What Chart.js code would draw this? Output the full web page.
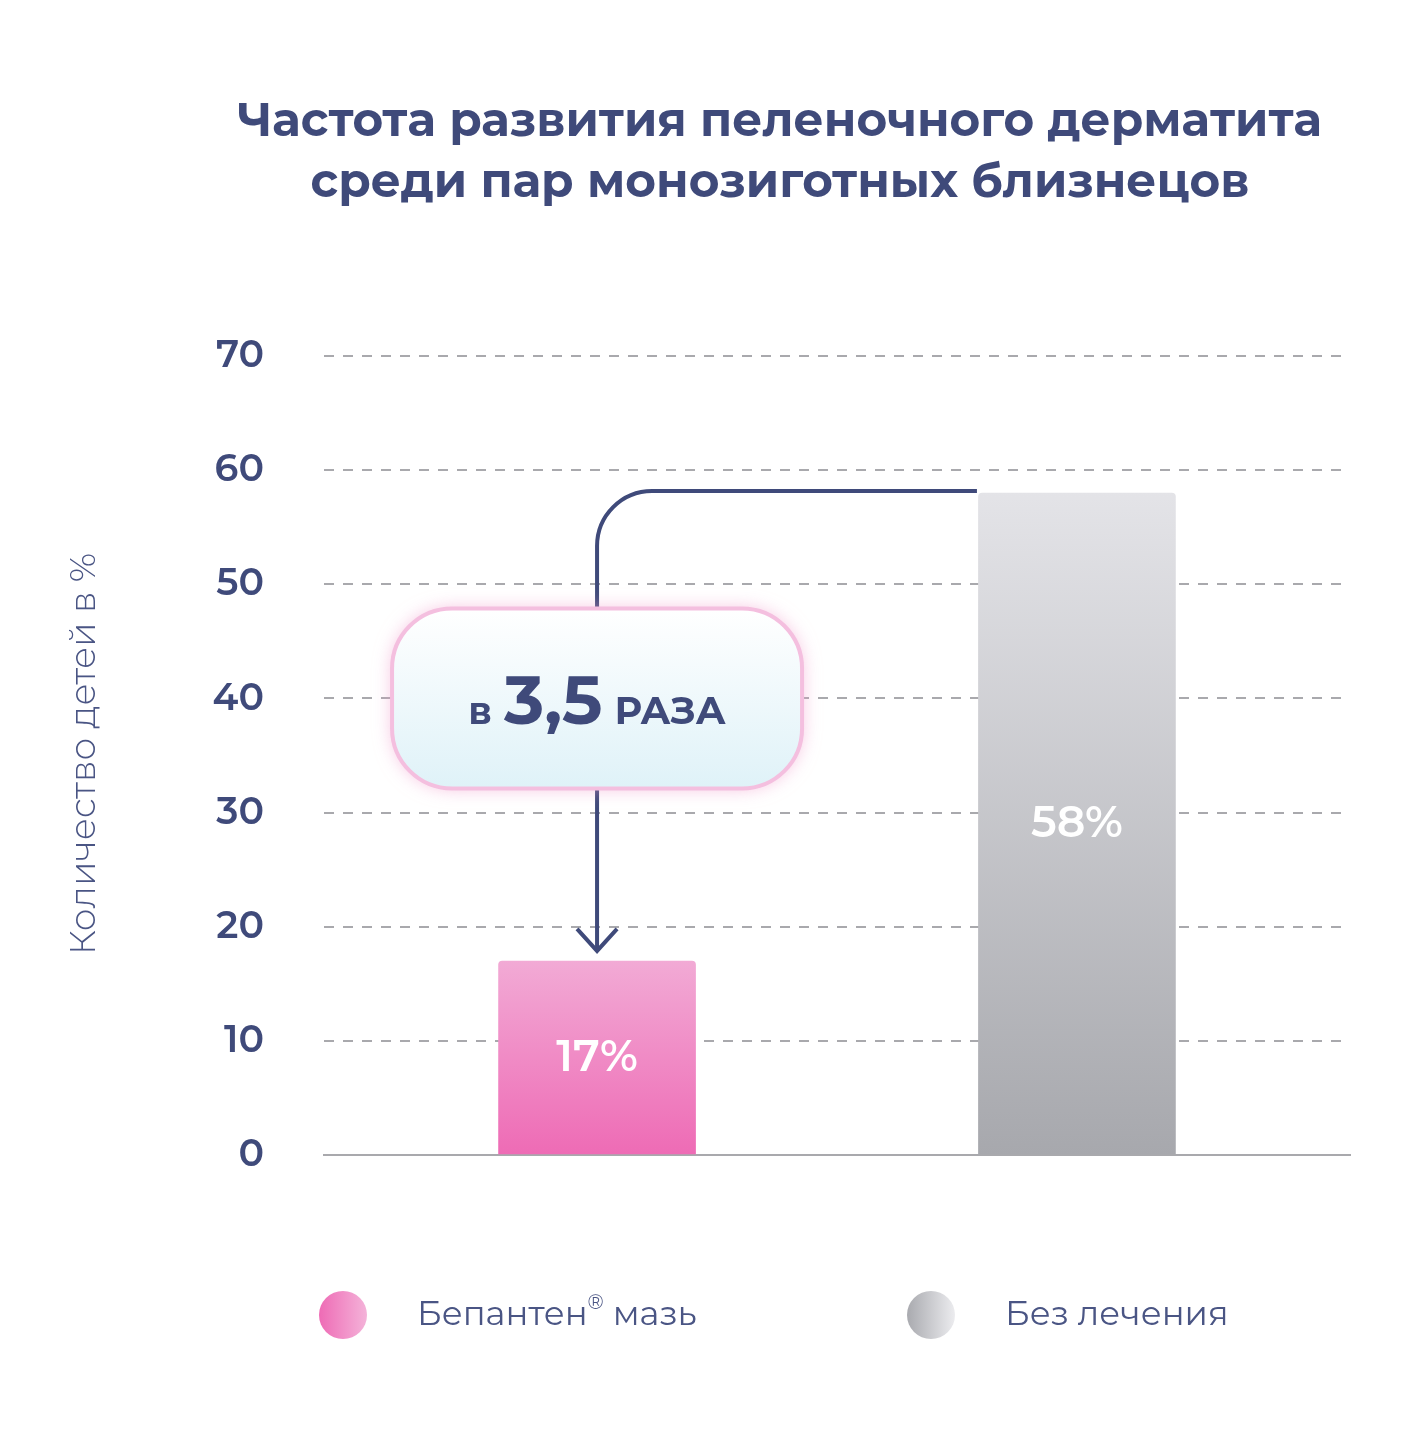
<!DOCTYPE html>
<html>
<head>
<meta charset="utf-8">
<script src="https://cdn.jsdelivr.net/npm/chart.js@4.4.0/dist/chart.umd.min.js"></script>
<style>
  body { margin: 0; background: #fff; }
  #wrap { width: 1410px; height: 1449px; }
</style>
</head>
<body>
<div id="wrap"><canvas id="myChart" width="1410" height="1449"></canvas></div>
<script>
var categories = ["Бепантен® мазь", "Без лечения"];
var values = [17, 58];
var valueLabels = ["17%", "58%"];
var yTicks = [0, 10, 20, 30, 40, 50, 60, 70];
var ratioText = ["в", "3,5", "РАЗА"];
var titleLines = ["Частота развития пеленочного дерматита", "среди пар монозиготных близнецов"];
var yTitle = "Количество детей в %";

var navy = "#3f4a7a";

function barColor(ctx) {
    var area = ctx.chart.chartArea;
    if (!area) return "#ccc";
    var g = ctx.chart.ctx.createLinearGradient(0, area.top, 0, area.bottom);
    if (ctx.dataIndex === 0) {
        g.addColorStop(0.75, "#f2acd6");
        g.addColorStop(1, "#ee6bb5");
    } else {
        g.addColorStop(0.15, "#e5e5e9");
        g.addColorStop(1, "#a7a8ad");
    }
    return g;
}

function roundRect(c, x, y, w, h, r) {
    c.beginPath();
    c.moveTo(x + r, y);
    c.arcTo(x + w, y, x + w, y + h, r);
    c.arcTo(x + w, y + h, x, y + h, r);
    c.arcTo(x, y + h, x, y, r);
    c.arcTo(x, y, x + w, y, r);
    c.closePath();
}

var extras = {
    id: "extras",
    afterDatasetsDraw(chart) {
        var c = chart.ctx, xs = chart.scales.x, ys = chart.scales.y;
        var x0 = xs.getPixelForValue(0), x1 = xs.getPixelForValue(1);
        c.save();
        c.fillStyle = "#fff";
        c.font = "600 44px Montserrat, 'Open Sans', sans-serif";
        c.textAlign = "center";
        c.textBaseline = "middle";
        values.forEach(function (v, i) {
            c.fillText(valueLabels[i], xs.getPixelForValue(i), ys.getPixelForValue(v / 2));
        });
        // connector arrow
        var yTop = ys.getPixelForValue(values[1]) - 2;
        var yEnd = ys.getPixelForValue(values[0]) - 10;
        c.strokeStyle = navy;
        c.lineWidth = 4;
        c.beginPath();
        c.moveTo(x1 - 100, yTop);
        c.lineTo(x0 + 55, yTop);
        c.arcTo(x0, yTop, x0, yTop + 55, 55);
        c.lineTo(x0, yEnd);
        c.stroke();
        c.beginPath();
        c.moveTo(x0 - 20, yEnd - 22);
        c.lineTo(x0, yEnd);
        c.lineTo(x0 + 20, yEnd - 22);
        c.stroke();
        // ratio box
        var cy = ys.getPixelForValue(40);
        var bw = 410, bh = 180;
        c.shadowColor = "rgba(240,150,200,0.6)";
        c.shadowBlur = 18;
        var g = c.createLinearGradient(0, cy - bh / 2, 0, cy + bh / 2);
        g.addColorStop(0, "#ffffff");
        g.addColorStop(1, "#dff2f8");
        c.fillStyle = g;
        roundRect(c, x0 - bw / 2, cy - bh / 2, bw, bh, 60);
        c.fill();
        c.shadowBlur = 0;
        c.strokeStyle = "#f4bfdf";
        c.lineWidth = 4;
        c.stroke();
        c.fillStyle = navy;
        c.textAlign = "left";
        c.textBaseline = "alphabetic";
        var f1 = "700 38px Montserrat, 'Open Sans', sans-serif";
        var f2 = "700 68px Montserrat, 'Open Sans', sans-serif";
        c.font = f1; var w1 = c.measureText(ratioText[0]).width, w3 = c.measureText(ratioText[2]).width;
        c.font = f2; var w2 = c.measureText(ratioText[1]).width;
        var gap = 12, tx = x0 - (w1 + w2 + w3 + 2 * gap) / 2, by = cy + 26;
        c.font = f1; c.fillText(ratioText[0], tx, by);
        c.font = f2; c.fillText(ratioText[1], tx + w1 + gap, by);
        c.font = f1; c.fillText(ratioText[2], tx + w1 + w2 + 2 * gap, by);
        c.restore();
    },
    afterDraw(chart) {
        var c = chart.ctx;
        c.save();
        c.fillStyle = navy;
        c.textAlign = "center";
        c.textBaseline = "middle";
        c.font = "700 47px Montserrat, 'Open Sans', sans-serif";
        c.fillText(titleLines[0], 780, 122);
        c.fillText(titleLines[1], 780, 183);
        c.translate(84, 754);
        c.rotate(-Math.PI / 2);
        c.font = "300 36px Montserrat, 'Open Sans', sans-serif";
        c.fillStyle = "#4a5584";
        c.fillText(yTitle, 0, 0);
        c.restore();
        c.save();
        // legend
        var lx = [343, 931];
        c.font = "400 34px Montserrat, 'Open Sans', sans-serif";
        c.textBaseline = "middle";
        c.textAlign = "left";
        lx.forEach(function (x, i) {
            var g = c.createLinearGradient(x - 24, 0, x + 24, 0);
            if (i === 0) { g.addColorStop(0, "#ee6bb5"); g.addColorStop(1, "#f4b3d9"); }
            else { g.addColorStop(0, "#a9aaaf"); g.addColorStop(1, "#ececef"); }
            c.fillStyle = g;
            c.beginPath(); c.arc(x, 1315, 24, 0, Math.PI * 2); c.fill();
            c.fillStyle = "#4a5584";
            var tx = x + 74;
            var name = categories[i];
            var k = name.indexOf("®");
            if (k >= 0) {
                var a = name.slice(0, k), b = name.slice(k + 1);
                c.fillText(a, tx, 1315);
                var wa = c.measureText(a).width;
                c.font = "400 20px Montserrat, 'Open Sans', sans-serif";
                c.fillText("®", tx + wa, 1303);
                var wr = c.measureText("®").width;
                c.font = "400 34px Montserrat, 'Open Sans', sans-serif";
                c.fillText(b, tx + wa + wr, 1315);
            } else {
                c.fillText(name, tx, 1315);
            }
        });
        c.restore();
    }
};

new Chart("myChart", {
    type: "bar",
    data: {
        datasets: [{
            data: values.map(function (v, i) { return { x: i, y: v }; }),
            backgroundColor: barColor,
            barThickness: 197,
            borderRadius: { topLeft: 4, topRight: 4 },
            borderSkipped: "bottom"
        }]
    },
    options: {
        responsive: false,
        animation: false,
        layout: { padding: { top: 356, bottom: 294, right: 60, left: 0 } },
        plugins: { legend: { display: false }, tooltip: { enabled: false } },
        scales: {
            x: {
                type: "linear",
                offset: false,
                min: -0.569, max: 1.569,
                ticks: { display: false },
                grid: { display: false, offset: false },
                border: { color: "#a9a9ad", width: 2 },
                afterFit: function (s) { s.height = 0; }
            },
            y: {
                min: 0, max: 70,
                afterBuildTicks: function (s) { s.ticks = yTicks.map(function (v) { return { value: v }; }); },
                ticks: {
                    color: navy,
                    padding: 60,
                    font: { size: 38, weight: "600", family: "Montserrat, 'Open Sans', sans-serif" }
                },
                grid: {
                    color: function (ctx) { return ctx.tick && ctx.tick.value === 0 ? "rgba(0,0,0,0)" : "#a9a9ad"; },
                    lineWidth: 2,
                    drawTicks: false
                },
                border: { display: false, dash: [10, 9] },
                afterFit: function (s) { s.width = 324; }
            }
        }
    },
    plugins: [extras]
});
</script>
</body>
</html>
